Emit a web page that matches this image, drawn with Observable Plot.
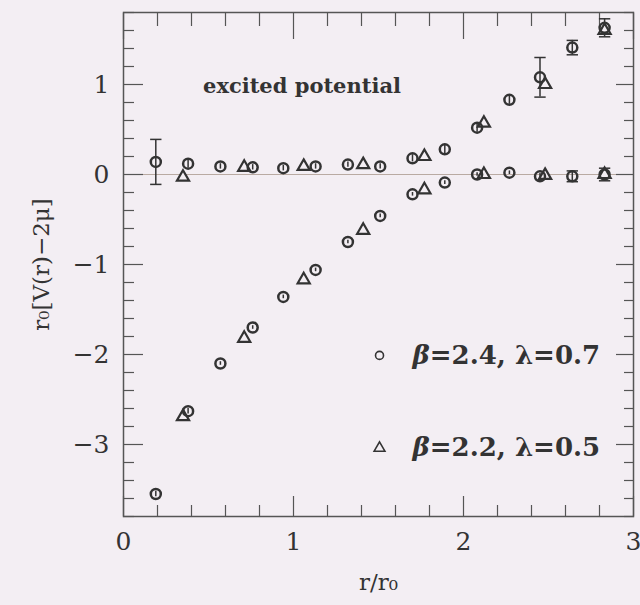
<!DOCTYPE html>
<html>
<head>
<meta charset="utf-8">
<script src="https://cdn.jsdelivr.net/npm/d3@7"></script>
<script src="https://cdn.jsdelivr.net/npm/@observablehq/plot@0.6"></script>
<style>
  html, body { margin: 0; padding: 0; background: #f3eef3; }
  #chart { width: 640px; height: 605px; }
</style>
</head>
<body>
<div id="chart"></div>
<script>
// ---- data ----
// beta=2.4, lambda=0.7 (circles)
const rCircle = [0.19, 0.38, 0.57, 0.76, 0.94, 1.13, 1.32, 1.51, 1.70, 1.89, 2.08, 2.27, 2.45, 2.64, 2.83];
const groundCircle = [-3.55, -2.63, -2.10, -1.70, -1.36, -1.06, -0.75, -0.46, -0.22, -0.09, 0.00, 0.02, -0.02, -0.02, 0.00];
const groundCircleErr = [0.03, 0.03, 0.02, 0.02, 0.02, 0.02, 0.02, 0.02, 0.02, 0.02, 0.02, 0.02, 0.03, 0.06, 0.07];
const excitedCircle = [0.14, 0.12, 0.09, 0.08, 0.07, 0.09, 0.11, 0.09, 0.18, 0.28, 0.52, 0.83, 1.08, 1.41, 1.63];
const excitedCircleErr = [0.25, 0.05, 0.03, 0.03, 0.03, 0.03, 0.03, 0.03, 0.04, 0.05, 0.05, 0.05, 0.22, 0.08, 0.10];
// beta=2.2, lambda=0.5 (triangles)
const rTriangle = [0.35, 0.71, 1.06, 1.41, 1.77, 2.12, 2.48, 2.83];
const groundTriangle = [-2.69, -1.82, -1.17, -0.62, -0.17, 0.00, -0.01, 0.00];
const excitedTriangle = [-0.03, 0.08, 0.09, 0.11, 0.20, 0.57, 1.00, 1.60];

const seriesNames = ["β=2.4, λ=0.7", "β=2.2, λ=0.5"];
const annotationText = "excited potential";
const xTickLabels = [0, 1, 2, 3];
const yTickLabels = [-3, -2, -1, 0, 1];
const xLabel = "r/r₀";
const yLabel = "r₀[V(r)−2μ]";

// ---- build tables ----
const circles = [];
rCircle.forEach((r, i) => {
  circles.push({r, v: groundCircle[i], e: groundCircleErr[i]});
  circles.push({r, v: excitedCircle[i], e: excitedCircleErr[i]});
});
const triangles = [];
rTriangle.forEach((r, i) => {
  triangles.push({r, v: groundTriangle[i]});
  triangles.push({r, v: excitedTriangle[i]});
});
const bigErr = circles.filter(d => d.e >= 0.06);
const caps = bigErr.flatMap(d => [{r: d.r, v: d.v - d.e}, {r: d.r, v: d.v + d.e}]);

const legend = [
  {x: 1.506, y: -2.01, tx: 1.70, name: seriesNames[0], symbol: "circle"},
  {x: 1.506, y: -3.04, tx: 1.70, name: seriesNames[1], symbol: "triangle"}
];

const majorX = d3.range(0, 3.001, 1);
const minorX = d3.range(0, 3.001, 0.2).filter(v => Math.abs(v - Math.round(v)) > 1e-6);
const majorY = d3.range(-3, 1.001, 1);
const minorY = d3.range(-3.8, 1.801, 0.2).map(v => +v.toFixed(1)).filter(v => Math.abs(v - Math.round(v)) > 1e-6);

const capSymbol = {
  draw(context, size) {
    const w = Math.sqrt(size) * 0.8;
    context.moveTo(-w, 0);
    context.lineTo(w, 0);
  }
};

const ink = "#333";
const tickStyle = {stroke: "#555", strokeWidth: 1.2, tickFormat: () => "", label: null};

const chart = Plot.plot({
  width: 640,
  height: 605,
  marginLeft: 123,
  marginRight: 7,
  marginTop: 12,
  marginBottom: 89,
  x: {domain: [0, 3]},
  y: {domain: [-3.8, 1.8]},
  style: {background: "transparent", fontFamily: "'DejaVu Serif', serif", color: "#333"},
  marks: [
    Plot.ruleY([0], {stroke: "#b9aaa2", strokeWidth: 1.2}),
    // ticks (inward) on all four sides
    Plot.axisX({anchor: "bottom", ticks: majorX, tickSize: -20, ...tickStyle}),
    Plot.axisX({anchor: "bottom", ticks: minorX, tickSize: -11, ...tickStyle}),
    Plot.axisX({anchor: "top", ticks: majorX, tickSize: -26, ...tickStyle}),
    Plot.axisX({anchor: "top", ticks: minorX, tickSize: -13, ...tickStyle}),
    Plot.axisY({anchor: "left", ticks: majorY, tickSize: -20, ...tickStyle}),
    Plot.axisY({anchor: "left", ticks: minorY, tickSize: -11, ...tickStyle}),
    Plot.axisY({anchor: "right", ticks: majorY, tickSize: -18, ...tickStyle}),
    Plot.axisY({anchor: "right", ticks: minorY, tickSize: -10, ...tickStyle}),
    // tick labels
    Plot.axisX({anchor: "bottom", ticks: xTickLabels, tickSize: 0, tickPadding: 16, fontSize: 25, label: null, tickFormat: d3.format("d")}),
    Plot.axisY({anchor: "left", ticks: yTickLabels, tickSize: 0, tickPadding: 14, fontSize: 25, label: null, tickFormat: d3.format("d")}),
    Plot.frame({stroke: "#555", strokeWidth: 1.5}),
    // error bars
    Plot.ruleX(circles, {x: "r", y1: d => d.v - d.e, y2: d => d.v + d.e, stroke: ink, strokeWidth: 1.5}),
    Plot.dot(caps, {x: "r", y: "v", symbol: capSymbol, r: 4, stroke: ink, strokeWidth: 1.5}),
    // markers
    Plot.dot(triangles, {x: "r", y: "v", symbol: "triangle", r: 4.5, stroke: ink, strokeWidth: 2.2, fill: "#f3eef3"}),
    Plot.dot(circles, {x: "r", y: "v", symbol: "circle", r: 5, stroke: ink, strokeWidth: 2.5, fill: "none"}),
    // annotation and legend
    Plot.text([annotationText], {x: () => 1.05, y: () => 0.98, text: d => d, fontSize: 21, fontWeight: "bold", fill: "#333", letterSpacing: 0.3}),
    Plot.dot(legend, {x: "x", y: "y", symbol: "symbol", r: 4, stroke: ink, strokeWidth: 1.6, fill: "none"}),
    Plot.text(legend, {x: "tx", y: "y", text: "name", textAnchor: "start", fontSize: 26, fontWeight: "bold", fill: "#333", letterSpacing: 0.4}),
    // axis titles
    Plot.text([yLabel], {frameAnchor: "left", textAnchor: "middle", dx: -82, rotate: -90, text: d => d, fontSize: 23, fill: "#333"}),
    Plot.text([xLabel], {frameAnchor: "bottom", textAnchor: "middle", dy: 73, text: d => d, fontSize: 23, fill: "#333"})
  ]
});

// italicise the beta in legend labels
d3.select(chart).selectAll("text").each(function() {
  const t = this.textContent;
  if (t.startsWith("β")) {
    const sel = d3.select(this);
    sel.text(null);
    sel.append("tspan").attr("font-style", "italic").text("β");
    sel.append("tspan").text(t.slice(1));
  }
});

document.getElementById("chart").appendChild(chart);
</script>
</body>
</html>
